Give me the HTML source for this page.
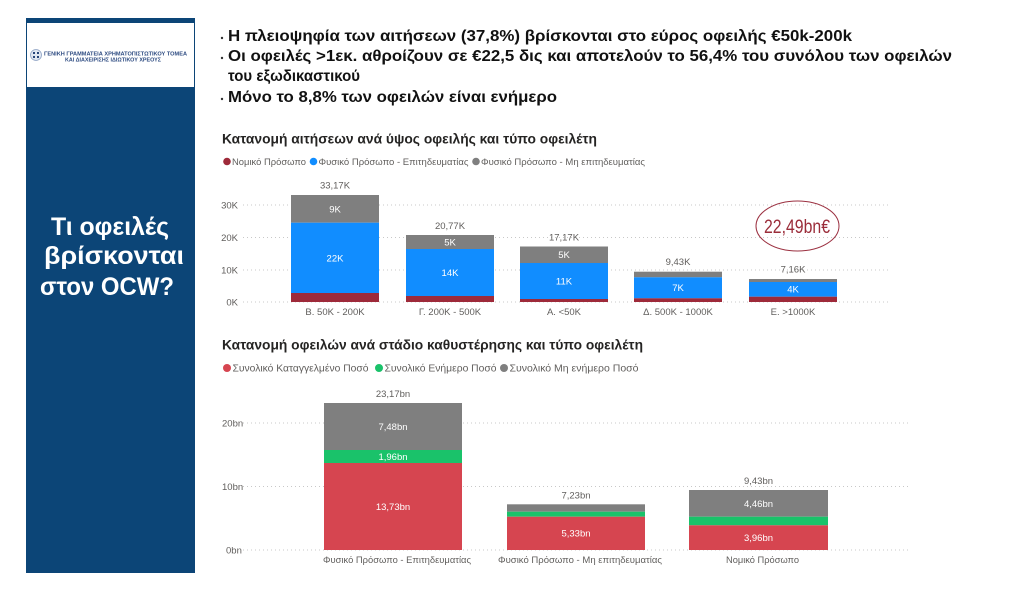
<!DOCTYPE html>
<html>
<head>
<meta charset="utf-8">
<style>
  html,body{margin:0;padding:0;background:#fff;}
  body{width:1024px;height:592px;overflow:hidden;}
  svg{display:block;}
  text{font-family:"Liberation Sans","Noto Sans CJK SC",sans-serif;}
</style>
</head>
<body>
<svg width="1024" height="592" viewBox="0 0 1024 592" xmlns="http://www.w3.org/2000/svg">
  <rect x="0" y="0" width="1024" height="592" fill="#ffffff"/>

  <!-- Left panel -->
  <rect x="26" y="18" width="169" height="555" fill="#0c4577"/>
  <rect x="27" y="23" width="167" height="64" fill="#ffffff"/>
  <!-- emblem -->
  <circle cx="36" cy="55" r="5.5" fill="#dfe6f1" stroke="#8fa3c4" stroke-width="0.8"/>
  <rect x="33" y="52" width="2" height="2" fill="#27457a"/>
  <rect x="37" y="52" width="2" height="2" fill="#27457a"/>
  <rect x="33" y="56" width="2" height="2" fill="#27457a"/>
  <rect x="37" y="56" width="2" height="2" fill="#27457a"/>
  <text x="44" y="55.5" font-size="5" font-weight="bold" fill="#2c4a80" textLength="143" lengthAdjust="spacingAndGlyphs">ΓΕΝΙΚΗ ΓΡΑΜΜΑΤΕΙΑ ΧΡΗΜΑΤΟΠΙΣΤΩΤΙΚΟΥ ΤΟΜΕΑ</text>
  <text x="65" y="61.5" font-size="5" font-weight="bold" fill="#2c4a80" textLength="96" lengthAdjust="spacingAndGlyphs">ΚΑΙ ΔΙΑΧΕΙΡΙΣΗΣ ΙΔΙΩΤΙΚΟΥ ΧΡΕΟΥΣ</text>

  <text x="110" y="235" font-size="25" font-weight="bold" fill="#ffffff" text-anchor="middle" textLength="118" lengthAdjust="spacingAndGlyphs">Τι οφειλές</text>
  <text x="114" y="264" font-size="25" font-weight="bold" fill="#ffffff" text-anchor="middle" textLength="140" lengthAdjust="spacingAndGlyphs">βρίσκονται</text>
  <text x="107" y="295" font-size="25" font-weight="bold" fill="#ffffff" text-anchor="middle" textLength="134" lengthAdjust="spacingAndGlyphs">στον OCW?</text>

  <!-- Bullets -->
  <g fill="#111" font-weight="bold" font-size="16">
    <circle cx="222" cy="38" r="1.2" fill="#333"/>
    <text x="228" y="41" textLength="624" lengthAdjust="spacingAndGlyphs">Η πλειοψηφία των αιτήσεων (37,8%) βρίσκονται στο εύρος οφειλής €50k-200k</text>
    <circle cx="222" cy="58" r="1.2" fill="#333"/>
    <text x="228" y="61" textLength="724" lengthAdjust="spacingAndGlyphs">Οι οφειλές &gt;1εκ. αθροίζουν σε €22,5 δις και αποτελούν το 56,4% του συνόλου των οφειλών</text>
    <text x="228" y="81" textLength="132" lengthAdjust="spacingAndGlyphs">του εξωδικαστικού</text>
    <circle cx="222" cy="99" r="1.2" fill="#333"/>
    <text x="228" y="102" textLength="329" lengthAdjust="spacingAndGlyphs">Μόνο το 8,8% των οφειλών είναι ενήμερο</text>
  </g>

  <!-- ================= Chart 1 ================= -->
  <text x="222" y="143.5" font-size="14" font-weight="bold" fill="#252423" textLength="375" lengthAdjust="spacingAndGlyphs">Κατανομή αιτήσεων ανά ύψος οφειλής και τύπο οφειλέτη</text>

  <g font-size="9.5" fill="#605e5c">
    <circle cx="227" cy="161.5" r="3.8" fill="#9e2a3a"/>
    <text x="232" y="165" textLength="74" lengthAdjust="spacingAndGlyphs">Νομικό Πρόσωπο</text>
    <circle cx="313.5" cy="161.5" r="3.8" fill="#118dff"/>
    <text x="318.5" y="165" textLength="150" lengthAdjust="spacingAndGlyphs">Φυσικό Πρόσωπο - Επιτηδευματίας</text>
    <circle cx="476" cy="161.5" r="3.8" fill="#7f7f7f"/>
    <text x="481" y="165" textLength="164" lengthAdjust="spacingAndGlyphs">Φυσικό Πρόσωπο - Μη επιτηδευματίας</text>
  </g>

  <!-- gridlines -->
  <g stroke="#c8c8c8" stroke-width="1" stroke-dasharray="1 3">
    <line x1="243" y1="205" x2="888" y2="205"/>
    <line x1="243" y1="237.5" x2="888" y2="237.5"/>
    <line x1="243" y1="270" x2="888" y2="270"/>
    <line x1="243" y1="302" x2="888" y2="302"/>
  </g>
  <g font-size="9.5" fill="#605e5c" text-anchor="end">
    <text x="238" y="208.5">30K</text>
    <text x="238" y="241">20K</text>
    <text x="238" y="273.5">10K</text>
    <text x="238" y="305.5">0K</text>
  </g>

  <!-- bars -->
  <g>
    <!-- bar1 -->
    <rect x="291" y="195" width="88" height="27.7" fill="#7f7f7f"/>
    <rect x="291" y="222.7" width="88" height="70.3" fill="#118dff"/>
    <rect x="291" y="293" width="88" height="9" fill="#9e2a3a"/>
    <!-- bar2 -->
    <rect x="406" y="235" width="88" height="14" fill="#7f7f7f"/>
    <rect x="406" y="249" width="88" height="47" fill="#118dff"/>
    <rect x="406" y="296" width="88" height="6" fill="#9e2a3a"/>
    <!-- bar3 -->
    <rect x="520" y="246.5" width="88" height="16.5" fill="#7f7f7f"/>
    <rect x="520" y="263" width="88" height="36" fill="#118dff"/>
    <rect x="520" y="299" width="88" height="3" fill="#9e2a3a"/>
    <!-- bar4 -->
    <rect x="634" y="271.7" width="88" height="5.6" fill="#7f7f7f"/>
    <rect x="634" y="277.3" width="88" height="21" fill="#118dff"/>
    <rect x="634" y="298.3" width="88" height="3.7" fill="#9e2a3a"/>
    <!-- bar5 -->
    <rect x="749" y="279" width="88" height="3" fill="#7f7f7f"/>
    <rect x="749" y="282" width="88" height="14.7" fill="#118dff"/>
    <rect x="749" y="296.7" width="88" height="5.3" fill="#9e2a3a"/>
  </g>

  <g font-size="9.5" fill="#605e5c" text-anchor="middle">
    <text x="335" y="188.5">33,17K</text>
    <text x="450" y="229">20,77K</text>
    <text x="564" y="240.5">17,17K</text>
    <text x="678" y="265">9,43K</text>
    <text x="793" y="272.5">7,16K</text>
  </g>
  <g font-size="9.5" fill="#ffffff" text-anchor="middle">
    <text x="335" y="212.5">9K</text>
    <text x="335" y="261.5">22K</text>
    <text x="450" y="245.5">5K</text>
    <text x="450" y="276">14K</text>
    <text x="564" y="258">5K</text>
    <text x="564" y="284.5">11K</text>
    <text x="678" y="291">7K</text>
    <text x="793" y="292.5">4K</text>
  </g>
  <g font-size="9.5" fill="#605e5c" text-anchor="middle">
    <text x="335" y="315">Β. 50K - 200K</text>
    <text x="450" y="315">Γ. 200K - 500K</text>
    <text x="564" y="315">Α. &lt;50K</text>
    <text x="678" y="315">Δ. 500K - 1000K</text>
    <text x="793" y="315">Ε. &gt;1000K</text>
  </g>

  <!-- annotation ellipse -->
  <ellipse cx="797.5" cy="226" rx="41.5" ry="25" fill="none" stroke="#9b3040" stroke-width="1"/>
  <text x="797" y="233" font-size="19" fill="#9b2d3a" text-anchor="middle" textLength="66" lengthAdjust="spacingAndGlyphs">22,49bn€</text>

  <!-- ================= Chart 2 ================= -->
  <text x="222" y="349.5" font-size="14" font-weight="bold" fill="#252423" textLength="421" lengthAdjust="spacingAndGlyphs">Κατανομή οφειλών ανά στάδιο καθυστέρησης και τύπο οφειλέτη</text>

  <g font-size="10.5" fill="#605e5c">
    <circle cx="227" cy="368" r="4" fill="#d64550"/>
    <text x="232.5" y="371.5" textLength="136" lengthAdjust="spacingAndGlyphs">Συνολικό Καταγγελμένο Ποσό</text>
    <circle cx="379" cy="368" r="4" fill="#1ac26a"/>
    <text x="384.5" y="371.5" textLength="112" lengthAdjust="spacingAndGlyphs">Συνολικό Ενήμερο Ποσό</text>
    <circle cx="504" cy="368" r="4" fill="#7f7f7f"/>
    <text x="509.5" y="371.5" textLength="129" lengthAdjust="spacingAndGlyphs">Συνολικό Μη ενήμερο Ποσό</text>
  </g>

  <g stroke="#c8c8c8" stroke-width="1" stroke-dasharray="1 3">
    <line x1="243" y1="423" x2="908" y2="423"/>
    <line x1="243" y1="486.5" x2="908" y2="486.5"/>
    <line x1="243" y1="550" x2="908" y2="550"/>
  </g>
  <g font-size="9.5" fill="#605e5c">
    <text x="222" y="426.5">20bn</text>
    <text x="222" y="490">10bn</text>
    <text x="226" y="553.5">0bn</text>
  </g>

  <g>
    <!-- bar1 -->
    <rect x="324" y="403" width="138" height="47" fill="#7f7f7f"/>
    <rect x="324" y="450" width="138" height="13" fill="#1ac26a"/>
    <rect x="324" y="463" width="138" height="87" fill="#d64550"/>
    <!-- bar2 -->
    <rect x="507" y="504.3" width="138" height="7.4" fill="#7f7f7f"/>
    <rect x="507" y="511.7" width="138" height="5" fill="#1ac26a"/>
    <rect x="507" y="516.7" width="138" height="33.3" fill="#d64550"/>
    <!-- bar3 -->
    <rect x="689" y="490" width="139" height="26.7" fill="#7f7f7f"/>
    <rect x="689" y="516.7" width="139" height="8.6" fill="#1ac26a"/>
    <rect x="689" y="525.3" width="139" height="24.7" fill="#d64550"/>
  </g>

  <g font-size="9.5" fill="#605e5c" text-anchor="middle">
    <text x="393" y="397">23,17bn</text>
    <text x="576" y="498.5">7,23bn</text>
    <text x="758.5" y="484">9,43bn</text>
  </g>
  <g font-size="9.5" fill="#ffffff" text-anchor="middle">
    <text x="393" y="430">7,48bn</text>
    <text x="393" y="460">1,96bn</text>
    <text x="393" y="510">13,73bn</text>
    <text x="576" y="536.5">5,33bn</text>
    <text x="758.5" y="507">4,46bn</text>
    <text x="758.5" y="541">3,96bn</text>
  </g>
  <g font-size="9.5" fill="#605e5c" text-anchor="middle">
    <text x="397" y="563" textLength="148" lengthAdjust="spacingAndGlyphs">Φυσικό Πρόσωπο - Επιτηδευματίας</text>
    <text x="580" y="563" textLength="164" lengthAdjust="spacingAndGlyphs">Φυσικό Πρόσωπο - Μη επιτηδευματίας</text>
    <text x="762.5" y="563" textLength="73" lengthAdjust="spacingAndGlyphs">Νομικό Πρόσωπο</text>
  </g>
</svg>
</body>
</html>
